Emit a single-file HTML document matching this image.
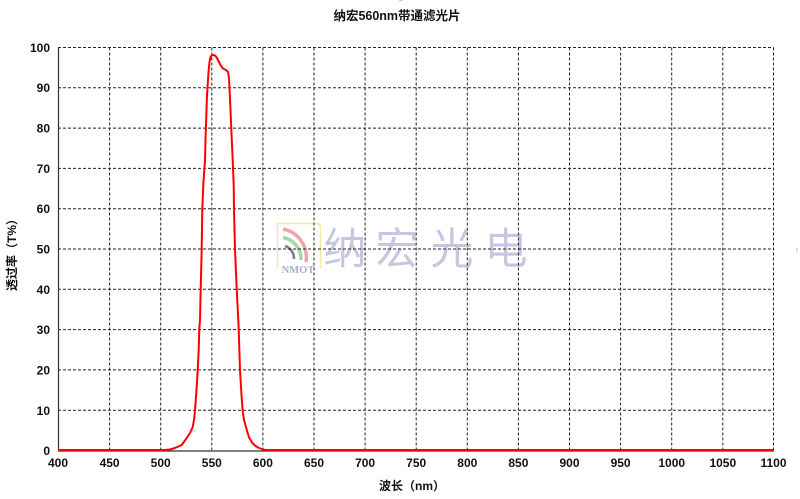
<!DOCTYPE html>
<html>
<head>
<meta charset="utf-8">
<style>
html,body{margin:0;padding:0;background:#fff;}
svg{display:block;}
text{font-family:"Liberation Sans","Noto Sans CJK SC",sans-serif;}
</style>
</head>
<body>
<svg width="800" height="499" viewBox="0 0 800 499" xmlns="http://www.w3.org/2000/svg">
<rect width="800" height="499" fill="#fff"/>
<!-- title -->
<text x="397" y="20" font-size="12.5" font-weight="bold" text-anchor="middle" fill="#111">纳宏560nm带通滤光片</text>
<line x1="399" y1="0" x2="403" y2="0" stroke="#999" stroke-width="1"/>

<!-- watermark -->
<g>
  <path d="M277.5,268 L277.5,223.5 L316,223.5 Q320.5,223.5 320.5,228 L320.5,268" fill="none" stroke="#f3eba0" stroke-width="1.5"/>
  <path d="M283,229 A29,29 0 0 1 306,262" fill="none" stroke="#f0a4ac" stroke-width="3.5"/>
  <path d="M283,237.5 A22,22 0 0 1 301,260" fill="none" stroke="#a6d6a6" stroke-width="3.5"/>
  <path d="M285,246 A13,13 0 0 1 294,259" fill="none" stroke="#7a7a96" stroke-width="2.5"/>
  <text x="298" y="273" font-size="10.5" font-weight="bold" text-anchor="middle" fill="#a8aecb" style="font-family:'Liberation Serif',serif">NMOT</text>
  <g font-size="43" fill="#c6c6e0" text-anchor="middle">
    <text x="345" y="264">纳</text>
    <text x="397" y="264">宏</text>
    <text x="452" y="264">光</text>
    <text x="506" y="264">电</text>
  </g>
</g>

<!-- grid -->
<g stroke="#222" stroke-width="1" stroke-dasharray="3,2" fill="none">
  <line x1="58" y1="47.5" x2="773.5" y2="47.5"/>
  <line x1="58" y1="87.8" x2="773.5" y2="87.8"/>
  <line x1="58" y1="128.1" x2="773.5" y2="128.1"/>
  <line x1="58" y1="168.4" x2="773.5" y2="168.4"/>
  <line x1="58" y1="208.7" x2="773.5" y2="208.7"/>
  <line x1="58" y1="249" x2="773.5" y2="249"/>
  <line x1="58" y1="289.3" x2="773.5" y2="289.3"/>
  <line x1="58" y1="329.6" x2="773.5" y2="329.6"/>
  <line x1="58" y1="369.9" x2="773.5" y2="369.9"/>
  <line x1="58" y1="410.2" x2="773.5" y2="410.2"/>
  <line x1="109.6" y1="47.5" x2="109.6" y2="450"/>
  <line x1="160.7" y1="47.5" x2="160.7" y2="450"/>
  <line x1="211.8" y1="47.5" x2="211.8" y2="450"/>
  <line x1="262.9" y1="47.5" x2="262.9" y2="450"/>
  <line x1="314" y1="47.5" x2="314" y2="450"/>
  <line x1="365.1" y1="47.5" x2="365.1" y2="450"/>
  <line x1="416.2" y1="47.5" x2="416.2" y2="450"/>
  <line x1="467.3" y1="47.5" x2="467.3" y2="450"/>
  <line x1="518.4" y1="47.5" x2="518.4" y2="450"/>
  <line x1="569.5" y1="47.5" x2="569.5" y2="450"/>
  <line x1="620.6" y1="47.5" x2="620.6" y2="450"/>
  <line x1="671.7" y1="47.5" x2="671.7" y2="450"/>
  <line x1="722.8" y1="47.5" x2="722.8" y2="450"/>
  <line x1="773.5" y1="47.5" x2="773.5" y2="450"/>
</g>
<!-- axes -->
<line x1="58.5" y1="47" x2="58.5" y2="451" stroke="#333" stroke-width="1.2"/>
<line x1="58" y1="451" x2="774" y2="451" stroke="#333" stroke-width="1.2"/>

<!-- curve -->
<path d="M58,450 L165,450 L170,449.5 L175,448 L181.7,445 L186.7,438 L190,433 L192.7,427 L194,420 L195,411 L196.5,390 L197.7,370 L198.7,350 L199.3,329 L200,320 L200.7,289 L201.7,249 L202.3,209 L203.3,185 L205,160 L205.5,140 L206.5,110 L207,95 L207.5,88 L208.5,72 L209.5,62 L210.5,57 L212,55 L214,55 L215.5,56 L217,58 L219,62 L221,66 L223,68.5 L226,70 L228,72 L229,78 L229.5,88 L230.5,110 L231.3,129 L232.7,160 L233.7,185 L234,209 L235,249 L236.7,289 L238.3,320 L238.7,330 L240,370 L241.5,395 L242.7,411 L244,420 L246,427 L248,434 L249.3,438 L252,442.5 L255,445.5 L258,447.5 L261.7,449 L265,450 L773,450" fill="none" stroke="#ff0000" stroke-width="2" stroke-linejoin="round"/>

<!-- y tick labels -->
<g font-size="12" font-weight="bold" fill="#111" text-anchor="end">
  <text x="50" y="52">100</text>
  <text x="50" y="92">90</text>
  <text x="50" y="132.5">80</text>
  <text x="50" y="173">70</text>
  <text x="50" y="213">60</text>
  <text x="50" y="253.5">50</text>
  <text x="50" y="294">40</text>
  <text x="50" y="334">30</text>
  <text x="50" y="374.5">20</text>
  <text x="50" y="415">10</text>
  <text x="50" y="455">0</text>
</g>
<!-- x tick labels -->
<g font-size="12" font-weight="bold" fill="#111" text-anchor="middle">
  <text x="58" y="467">400</text>
  <text x="109.6" y="467">450</text>
  <text x="160.7" y="467">500</text>
  <text x="211.8" y="467">550</text>
  <text x="262.9" y="467">600</text>
  <text x="314" y="467">650</text>
  <text x="365.1" y="467">700</text>
  <text x="416.2" y="467">750</text>
  <text x="467.3" y="467">800</text>
  <text x="518.4" y="467">850</text>
  <text x="569.5" y="467">900</text>
  <text x="620.6" y="467">950</text>
  <text x="671.7" y="467">1000</text>
  <text x="722.8" y="467">1050</text>
  <text x="773.5" y="467">1100</text>
</g>
<!-- axis titles -->
<text x="412" y="490" font-size="12" font-weight="bold" text-anchor="middle" fill="#111">波长（nm）</text>
<text transform="translate(16,252) rotate(-90)" font-size="12" font-weight="bold" text-anchor="middle" fill="#111">透过率（T%）</text>
<line x1="797" y1="248" x2="797" y2="252" stroke="#bbb" stroke-width="1"/>
</svg>
</body>
</html>
